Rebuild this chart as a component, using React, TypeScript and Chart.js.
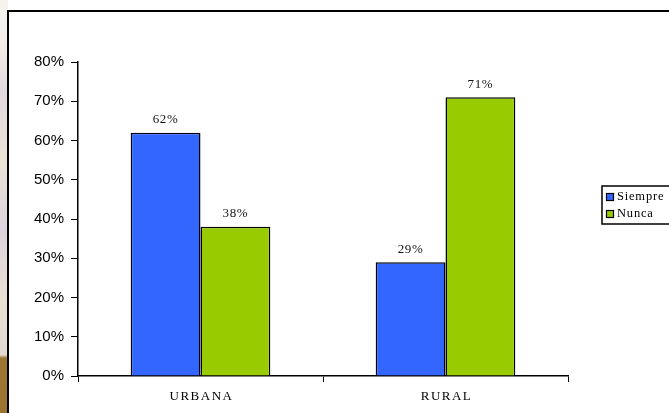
import React, { useEffect, useRef } from "react";
import { Chart, registerables } from "chart.js";

Chart.register(...registerables);

const categories = ["URBANA", "RURAL"];
const siempre = [62, 29];
const nunca = [38, 71];
const seriesLabels = ["Siempre", "Nunca"];
const yTicks = [0, 10, 20, 30, 40, 50, 60, 70, 80];

const SERIF = '"Liberation Serif", "Times New Roman", serif';
const SANS = '"Liberation Sans", Arial, sans-serif';

const overlayPlugin = {
  id: "overlay",
  afterDraw(chart: any) {
    const ctx = chart.ctx as CanvasRenderingContext2D;
    const xScale = chart.scales.x;
    const area = chart.chartArea;
    ctx.save();
    // value labels
    ctx.font = `13px ${SERIF}`;
    (ctx as any).letterSpacing = "0.6px";
    ctx.fillStyle = "#111";
    ctx.textAlign = "center";
    ctx.textBaseline = "middle";
    chart.data.datasets.forEach((ds: any, di: number) => {
      const meta = chart.getDatasetMeta(di);
      meta.data.forEach((bar: any, i: number) => {
        ctx.fillText(ds.data[i] + "%", bar.x, bar.y - 13);
      });
    });
    // category labels
    ctx.font = `13px ${SERIF}`;
    (ctx as any).letterSpacing = "1.5px";
    ctx.fillStyle = "#000";
    categories.forEach((c, i) => {
      const x = xScale.getPixelForTick(i);
      ctx.fillText(c, x + 1, area.bottom + 21);
    });
    // legend
    (ctx as any).letterSpacing = "0.8px";
    const lx = 602, ly = 186, lw = 70, lh = 38;
    ctx.fillStyle = "#fff";
    ctx.fillRect(lx, ly, lw, lh);
    ctx.lineWidth = 1.5;
    ctx.strokeStyle = "#000";
    ctx.strokeRect(lx, ly, lw, lh);
    ctx.font = `12.5px ${SERIF}`;
    ctx.textAlign = "left";
    chart.data.datasets.forEach((ds: any, di: number) => {
      const cy = ly + 11 + di * 17;
      ctx.fillStyle = ds.backgroundColor;
      ctx.fillRect(607, cy - 3, 6, 6);
      ctx.lineWidth = 1.2;
      ctx.strokeStyle = "#000";
      ctx.strokeRect(606.5, cy - 3.5, 7, 7);
      ctx.fillStyle = "#000";
      ctx.fillText(ds.label, 617, cy);
    });
    ctx.restore();
  },
};

export default function App() {
  const ref = useRef<HTMLCanvasElement>(null);
  useEffect(() => {
    if (!ref.current) return;
    const chart = new Chart(ref.current, {
      type: "bar",
      data: {
        labels: categories,
        datasets: [
          {
            label: seriesLabels[0],
            data: siempre,
            backgroundColor: "#3366FF",
            borderColor: "#000",
            borderWidth: 1.5,
            categoryPercentage: 0.57,
            barPercentage: 1,
          },
          {
            label: seriesLabels[1],
            data: nunca,
            backgroundColor: "#99CC00",
            borderColor: "#000",
            borderWidth: 1.5,
            categoryPercentage: 0.57,
            barPercentage: 1,
          },
        ],
      },
      options: {
        animation: false,
        responsive: false,
        maintainAspectRatio: false,
        layout: { padding: { top: 62, right: 101, bottom: 0, left: 0 } },
        plugins: {
          legend: { display: false },
          tooltip: { enabled: false },
        },
        scales: {
          x: {
            afterFit(scale: any) {
              scale.height = 37;
            },
            grid: {
              offset: true,
              drawOnChartArea: false,
              drawTicks: true,
              tickLength: 6,
              color: "#000",
            },
            border: { display: true, color: "#000", width: 1.5 },
            ticks: { display: false },
          },
          y: {
            min: 0,
            max: 80,
            afterFit(scale: any) {
              scale.width = 78;
            },
            afterBuildTicks(scale: any) {
              scale.ticks = yTicks.map((v) => ({ value: v }));
            },
            grid: {
              drawOnChartArea: false,
              drawTicks: true,
              tickLength: 7,
              color: "#000",
            },
            border: { display: true, color: "#000", width: 1.5 },
            ticks: {
              padding: 7,
              color: "#000",
              font: { family: SANS, size: 15 },
              callback: (v: any) => v + "%",
            },
          },
        },
      },
      plugins: [overlayPlugin],
    });
    return () => chart.destroy();
  }, []);

  return (
    <div
      style={{
        position: "fixed",
        left: 0,
        top: 0,
        width: 669,
        height: 413,
        background: "#fff",
        overflow: "hidden",
      }}
    >
      <div
        style={{
          position: "absolute",
          left: 0,
          top: 0,
          width: 8,
          height: 413,
          background:
            "linear-gradient(to bottom, #f6f3ef 0px, #f1ebe6 50px, #e2d8df 90px, #ebe2d6 160px, #ddd3de 230px, #e9e0d3 300px, #e3d8d0 355px, #9d7732 358px, #9a7430 413px)",
        }}
      />
      <div
        style={{
          position: "absolute",
          left: 7,
          top: 10,
          width: 700,
          height: 450,
          border: "2px solid #000",
          background: "#fff",
          boxSizing: "border-box",
        }}
      />
      <canvas
        ref={ref}
        width={669}
        height={413}
        style={{ position: "absolute", left: 0, top: 0, width: 669, height: 413 }}
      />
    </div>
  );
}
